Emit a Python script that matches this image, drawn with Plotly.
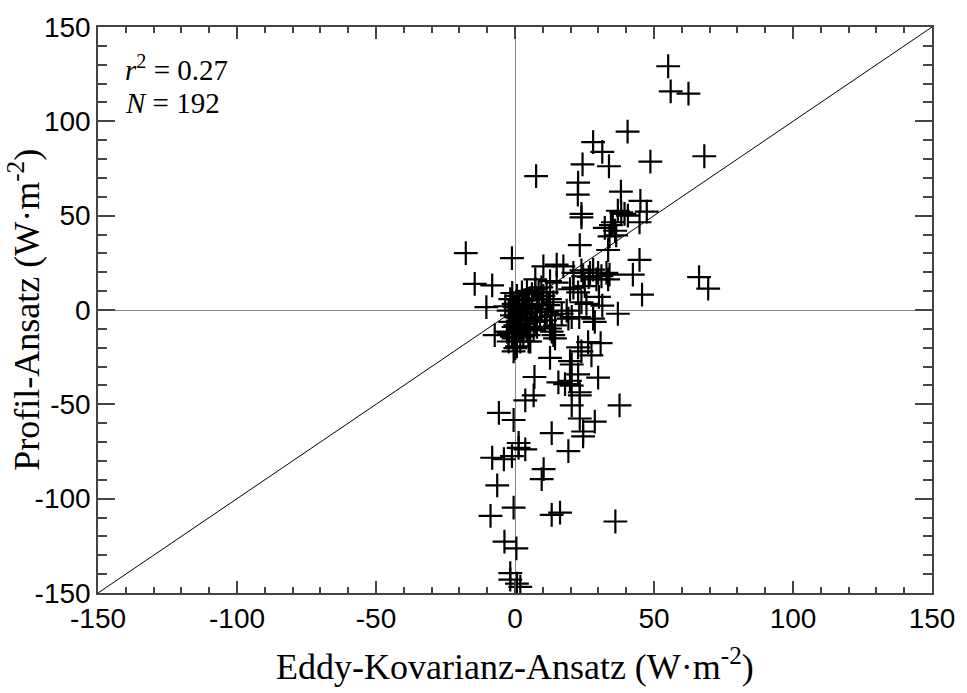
import plotly.graph_objects as go

# Eddy-Kovarianz-Ansatz (x) vs Profil-Ansatz (y), W m^-2
eddy = [
    55.1, 56.0, 62.4, 40.5, 28.1, 31.4, 24.3, 33.8, 48.7, 68.1, 7.6, 22.7, 22.6, 38.1, 45.1, 47.4, 23.9, 23.9,
    37.0, 38.2, 39.4, 40.6, 35.2, 44.8, 32.3, 34.5, 36.0, 34.0, 36.4, 23.3, 33.5, 44.8, 42.4, 66.2, 69.5, 45.7,
    21.0, 23.9, 24.5, 26.5, 27.0, 28.1, 29.9, 31.1, 32.9, 33.5, 34.0, 29.3, 25.1, 19.8, 21.0, 22.7, 30.2, 31.4,
    23.9, 25.7, 37.0, 28.1, 28.7, 23.1, 18.6, 20.4, 16.8, 19.2,
    -17.7, -1.1, -14.5, -8.2, -10.3, -7.3, 10.2, 15.0, 17.4, 7.3, 12.6, 15.0,
    30.8, 26.3, 22.7, 27.5, 19.8, 20.4, 23.9, 13.8, 13.8, 12.6, 14.4, 13.2, 14.4,
    4.9, 0.7, -2.3, -0.5, 1.3, 4.3, 5.5, 0.1, -0.5,
    12.6, 7.0, 15.6, 18.0, 19.8, 20.4, 22.7, 23.3, 23.3, 29.9, 37.6, 6.7, 3.7, 20.4, -5.8, -0.5, 23.3, 28.7,
    24.5, 24.5, 13.2, 19.2, 1.3, 3.7, 1.3, -8.2, -4.0, -1.1, 10.3, 9.6, -6.4, -0.5, -8.8, 13.2, 16.2, 36.1,
    -3.8, 0.5, -1.7, -1.7, 0.7, 1.9,
    -1.7, -0.5, 0.7, 2.5, 4.3, 6.1, 7.3, 8.5, 10.2, 11.4, 12.6, 12.0,
    -2.3, -1.1, 0.7, 2.5, 4.3, 6.1, 7.9, 9.6, 11.4, 13.2,
    -1.7, 0.1, 1.9, 3.7, 5.5, 7.3, 9.0, 10.8,
    -2.9, -1.1, 0.7, 2.5, 4.9, 6.7, 7.9,
    -2.3, 1.9, 3.0,
    -3.5, 0.0, 1.5, 3.0, 5.0, 3.5, 1.0, -0.5, 4.0, 8.5, -1.0, 6.0, 9.5,
]
profil = [
    129.2, 115.9, 114.7, 94.5, 89.0, 83.8, 77.2, 76.2, 78.6, 81.5, 71.0, 67.5, 61.1, 62.7, 57.8, 52.1, 50.9, 49.1,
    52.6, 51.7, 50.9, 50.0, 46.5, 46.5, 43.5, 45.0, 42.0, 39.0, 39.6, 34.4, 31.8, 26.6, 18.8, 17.4, 11.3, 8.1,
    19.7, 21.0, 17.9, 17.5, 19.7, 21.4, 19.7, 17.9, 19.7, 16.2, 18.8, 16.2, 12.7, 11.0, 11.9, 9.3, 7.0, 2.3,
    4.1, 3.2, -2.0, -4.6, -6.3, -3.7, -0.3, -3.7, -2.0, -4.6,
    30.1, 27.5, 13.9, 13.1, 1.5, -13.3, 23.1, 24.0, 23.1, 16.2, 15.3, 14.5,
    -17.6, -17.0, -19.8, -24.0, -27.1, -28.9, -21.9, 4.1, -13.3, -9.8, -8.1, -11.5, -15.0,
    -16.7, -19.3, -12.4, -15.0, -10.7, -9.8, -16.7, -20.2, -21.9,
    -25.4, -35.5, -38.4, -39.3, -37.5, -40.1, -34.1, -43.6, -45.3, -35.8, -50.5, -45.3, -47.9, -50.5, -54.5, -58.3, -57.5, -59.2,
    -64.4, -67.0, -65.3, -74.8, -73.1, -73.9, -70.5, -78.3, -79.1, -77.4, -84.3, -89.6, -93.0, -104.8, -109.1, -108.6, -107.4, -112.1,
    -122.8, -126.3, -139.5, -142.9, -145.0, -146.8,
    5.8, 3.2, 7.5, 9.3, 10.1, 8.4, 11.0, 9.3, 7.5, 9.3, 5.8, 2.6,
    -0.3, -2.9, -0.3, -2.0, 0.6, 2.3, 3.2, 0.6, -1.1, -2.9,
    -6.3, -8.1, -5.5, -7.2, -4.6, -6.3, -3.7, -5.5,
    -11.5, -14.1, -12.4, -10.7, -13.3, -10.7, -8.9,
    -16.7, -16.7, -14.0,
    2.0, 1.5, 3.0, 5.0, 6.0, 1.5, -4.0, -9.0, -2.5, 5.5, 9.0, -1.0, 12.0,
]

axis_range = [-150, 150]
tick_vals = [-150, -100, -50, 0, 50, 100, 150]
tick_text = ["-150", "-100", "-50", "0", "50", "100", "150"]
one_to_one = [-150, 150]

x_title = "Eddy-Kovarianz-Ansatz (W·m<sup>-2</sup>)"
y_title = "Profil-Ansatz (W·m<sup>-2</sup>)"
stat_r2 = "<i>r</i><sup>2</sup> = 0.27"
stat_n = "<i>N</i> = 192"

SANS = "Liberation Sans, Arial, sans-serif"
SERIF = "Liberation Serif, Times New Roman, serif"

fig = go.Figure()
fig.add_trace(go.Scatter(x=one_to_one, y=one_to_one, mode="lines",
                         line=dict(color="black", width=1), hoverinfo="skip"))
fig.add_trace(go.Scatter(x=eddy, y=profil, mode="markers",
                         marker=dict(symbol="cross-thin-open", size=17, color="black",
                                     line=dict(color="black", width=2.2))))

def axis(ticklen, minorlen):
    return dict(
        range=axis_range, tickvals=tick_vals, ticktext=tick_text,
        ticks="inside", ticklen=ticklen, tickwidth=1.5, tickcolor="#444",
        minor=dict(dtick=10, tick0=0, ticks="inside", ticklen=minorlen, tickwidth=1.5, tickcolor="#444"),
        showline=True, linecolor="#444", linewidth=1.5, mirror="ticks",
        showgrid=False, zeroline=True, zerolinecolor="#888", zerolinewidth=1,
        tickfont=dict(family=SANS, size=28, color="black"),
        fixedrange=True,
    )

fig.update_layout(
    width=967, height=693,
    margin=dict(l=98, r=29, t=16, b=100),
    paper_bgcolor="white", plot_bgcolor="white",
    showlegend=False,
    xaxis=axis(12, 6),
    yaxis=axis(17, 9),
    annotations=[
        dict(text=x_title, xref="paper", yref="paper", x=0.5, y=-0.127,
             xanchor="center", yanchor="middle", showarrow=False,
             font=dict(family=SERIF, size=36, color="black")),
        dict(text=y_title, xref="paper", yref="paper", x=-0.089, y=0.5,
             xanchor="center", yanchor="middle", showarrow=False, textangle=-90,
             font=dict(family=SERIF, size=36, color="black")),
        dict(text=stat_r2, xref="paper", yref="paper", x=0.03, y=0.927,
             xanchor="left", yanchor="middle", showarrow=False,
             font=dict(family=SERIF, size=29, color="black")),
        dict(text=stat_n, xref="paper", yref="paper", x=0.03, y=0.866,
             xanchor="left", yanchor="middle", showarrow=False,
             font=dict(family=SERIF, size=29, color="black")),
    ],
)

fig.write_html("out.html")
